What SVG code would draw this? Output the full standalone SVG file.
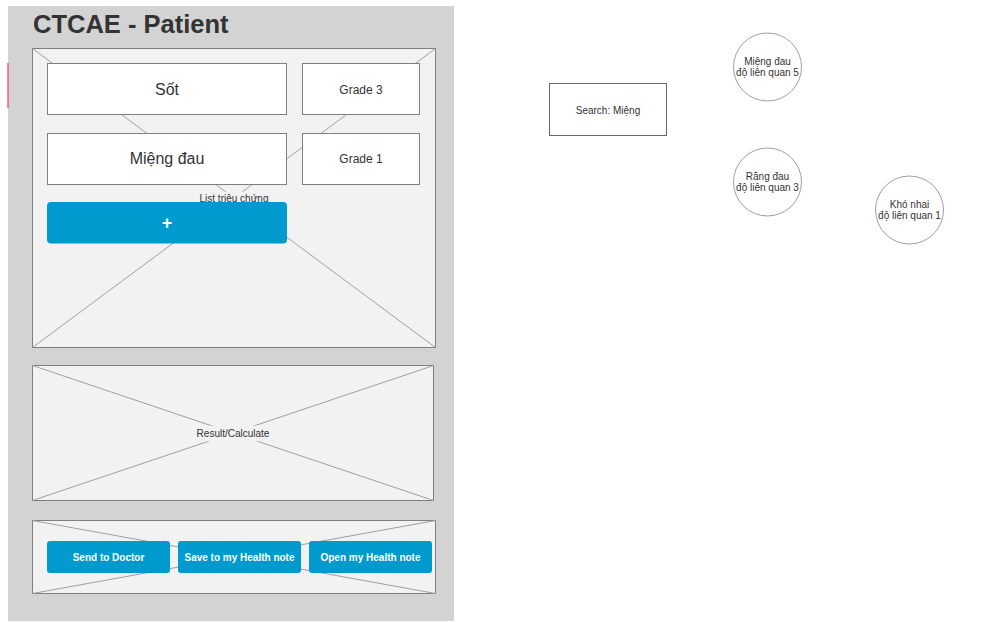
<svg xmlns="http://www.w3.org/2000/svg" width="991" height="622" viewBox="0 0 991 622">
<style>
.t{font-family:"Liberation Sans",Arial,sans-serif;fill:#333333;text-anchor:middle}
.panel{fill:#f2f2f2;stroke:#808080;stroke-width:1}
.x{stroke:#a0a0a0;stroke-width:1;fill:none}
.box{fill:#ffffff;stroke:#808080;stroke-width:1}
.btn{fill:#009ACF;stroke:none}
.bt{font-family:"Liberation Sans",Arial,sans-serif;fill:#ffffff;font-weight:bold;text-anchor:middle}
.circ{fill:#ffffff;stroke:#a0a0a0;stroke-width:1}
</style>
<rect x="0" y="0" width="991" height="622" fill="#ffffff"/>
<g id="background">
<rect x="8" y="6" width="446" height="615" fill="#d3d3d3"/>
<line x1="8" y1="63" x2="8" y2="108" stroke="#FF3366" stroke-width="1.2"/>
</g>
<g id="title">
<text x="33" y="33" font-family="Liberation Sans,Arial,sans-serif" font-size="25.5" font-weight="bold" fill="#333333">CTCAE - Patient</text>
</g>
<g id="panel-list">
<rect class="panel" x="32.5" y="48.5" width="403" height="299"/>
<line class="x" x1="32.5" y1="48.5" x2="435.5" y2="347.5"/>
<line class="x" x1="435.5" y1="48.5" x2="32.5" y2="347.5"/>
<rect x="196" y="191.7" width="76" height="14" fill="#f2f2f2"/>
<text class="t" x="234" y="201.5" font-size="10">List triệu chứng</text>
</g>
<g id="item-sot">
<rect class="box" x="47.5" y="63.5" width="239" height="51"/>
<text class="t" x="167" y="94.5" font-size="16">Sốt</text>
</g>
<g id="item-grade3">
<rect class="box" x="302.5" y="63.5" width="117" height="51"/>
<text class="t" x="361" y="93.5" font-size="12">Grade 3</text>
</g>
<g id="item-mieng">
<rect class="box" x="47.5" y="133.5" width="239" height="51"/>
<text class="t" x="167" y="164" font-size="16">Miệng đau</text>
</g>
<g id="item-grade1">
<rect class="box" x="302.5" y="133.5" width="117" height="51"/>
<text class="t" x="361" y="163" font-size="12">Grade 1</text>
</g>
<g id="btn-add">
<rect class="btn" x="47" y="202" width="240" height="41.5" rx="4"/>
<text class="bt" x="167" y="229" font-size="18">+</text>
</g>
<g id="panel-result">
<rect class="panel" x="32.5" y="365.5" width="401" height="135"/>
<line class="x" x1="32.5" y1="365.5" x2="433.5" y2="500.5"/>
<line class="x" x1="433.5" y1="365.5" x2="32.5" y2="500.5"/>
<rect x="194" y="425.7" width="78" height="15.6" fill="#f2f2f2"/>
<text class="t" x="233" y="436.5" font-size="10">Result/Calculate</text>
</g>
<g id="panel-actions">
<rect class="panel" x="32.5" y="520.5" width="403" height="73"/>
<line class="x" x1="32.5" y1="520.5" x2="435.5" y2="593.5"/>
<line class="x" x1="435.5" y1="520.5" x2="32.5" y2="593.5"/>
</g>
<g id="btn-send">
<rect class="btn" x="47" y="541" width="123" height="32" rx="3"/>
<text class="bt" x="108.5" y="560.5" font-size="10">Send to Doctor</text>
</g>
<g id="btn-save">
<rect class="btn" x="178" y="541" width="123" height="32" rx="3"/>
<text class="bt" x="239.5" y="560.5" font-size="10">Save to my Health note</text>
</g>
<g id="btn-open">
<rect class="btn" x="309" y="541" width="123" height="32" rx="3"/>
<text class="bt" x="370.5" y="560.5" font-size="10">Open my Health note</text>
</g>
<g id="search">
<rect x="549.5" y="83.5" width="117" height="52" fill="#ffffff" stroke="#666666" stroke-width="1"/>
<text class="t" x="608" y="113.5" font-size="10">Search: Miệng</text>
</g>
<g id="result-mieng">
<circle class="circ" cx="767.5" cy="67" r="34"/>
<text class="t" x="767.5" y="65" font-size="10">Miệng đau</text>
<text class="t" x="767.5" y="76" font-size="10">độ liên quan 5</text>
</g>
<g id="result-rang">
<circle class="circ" cx="767.5" cy="182" r="34"/>
<text class="t" x="767.5" y="180" font-size="10">Răng đau</text>
<text class="t" x="767.5" y="191" font-size="10">độ liên quan 3</text>
</g>
<g id="result-kho">
<circle class="circ" cx="909.5" cy="210" r="34"/>
<text class="t" x="909.5" y="208" font-size="10">Khó nhai</text>
<text class="t" x="909.5" y="219" font-size="10">độ liên quan 1</text>
</g>
<g id="connectors"></g>
</svg>
